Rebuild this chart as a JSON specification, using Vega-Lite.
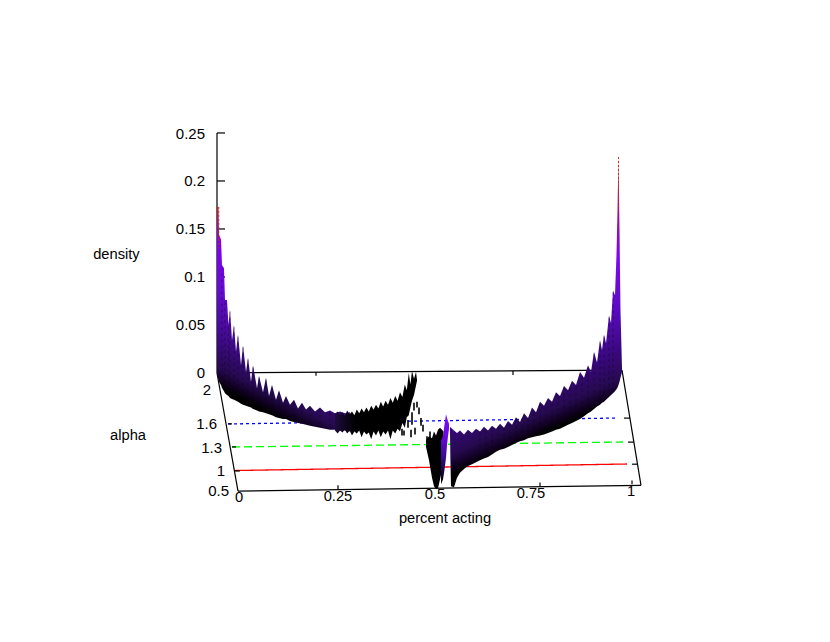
{"$schema":"https://vega.github.io/schema/vega-lite/v6.json","width":830,"height":642,"padding":0,"autosize":{"type":"fit","contains":"padding"},"background":"white","config":{"view":{"stroke":null}},
"datasets":{
"frame":[{"pct":-5.75,"dens":0,"pct2":95.5,"dens2":3},{"pct":95.5,"dens":3,"pct2":100.25,"dens2":-117},{"pct":100.25,"dens":-117,"pct2":-0.5,"dens2":-123},{"pct":-0.5,"dens":-123,"pct2":-5.75,"dens2":0},{"pct":-5.75,"dens":0,"pct2":-5.75,"dens2":250},
{"pct":-5.75,"dens":250,"pct2":-3.75,"dens2":250},{"pct":-5.75,"dens":200,"pct2":-3.75,"dens2":200},{"pct":-5.75,"dens":150,"pct2":-3.75,"dens2":150},{"pct":-5.75,"dens":100,"pct2":-3.75,"dens2":100},{"pct":-5.75,"dens":50,"pct2":-3.75,"dens2":50},
{"pct":98,"dens":-95,"pct2":99.5,"dens2":-95},{"pct":97,"dens":-72,"pct2":98.5,"dens2":-72},{"pct":96,"dens":-47,"pct2":97.5,"dens2":-47},
{"pct":-3,"dens":-53,"pct2":-2,"dens2":-53},{"pct":-2,"dens":-77,"pct2":-1,"dens2":-77},{"pct":-1.25,"dens":-102,"pct2":0,"dens2":-102},
{"pct":19,"dens":1,"pct2":19,"dens2":-3},{"pct":68.25,"dens":2,"pct2":68.25,"dens2":-2},{"pct":24.5,"dens":-121,"pct2":24.5,"dens2":-117},{"pct":75,"dens":-118,"pct2":75,"dens2":-114},{"pct":98,"dens":-116,"pct2":98,"dens2":-112}],
"levels":[{"pct":-1.25,"dens":-101.6,"pct2":96.75,"dens2":-94.8,"alpha":"1"},{"pct":-2,"dens":-77.1,"pct2":95.75,"dens2":-71.9,"alpha":"1.3"},{"pct":-3,"dens":-53.1,"pct2":94.25,"dens2":-46.9,"alpha":"1.6"}],
"leftWedge":[{"pct":-5.75,"dens":173,"dens2":-2},{"pct":-5.38,"dens":173,"dens2":-7},{"pct":-5.25,"dens":144,"dens2":-9},{"pct":-4.75,"dens":139,"dens2":-12.5},{"pct":-4.5,"dens":112.5,"dens2":-15.6},{"pct":-4,"dens":109,"dens2":-19},{"pct":-3.75,"dens":76,"dens2":-21},{"pct":-3.25,"dens":76,"dens2":-23},{"pct":-2.88,"dens":50,"dens2":-24},{"pct":-2.5,"dens":66,"dens2":-26},{"pct":-2,"dens":34,"dens2":-27},{"pct":-1.5,"dens":50,"dens2":-28},{"pct":-1,"dens":22,"dens2":-29},{"pct":-0.5,"dens":40,"dens2":-30},{"pct":0.25,"dens":8,"dens2":-32},{"pct":0.75,"dens":29,"dens2":-33},{"pct":1.5,"dens":1,"dens2":-34},{"pct":2,"dens":16,"dens2":-35},{"pct":2.75,"dens":-9,"dens2":-36},{"pct":3.25,"dens":8,"dens2":-37.5},{"pct":4.25,"dens":-16,"dens2":-39},{"pct":4.75,"dens":-3,"dens2":-40},{"pct":5.75,"dens":-20,"dens2":-41},{"pct":6.5,"dens":-5,"dens2":-42},{"pct":7.25,"dens":-24,"dens2":-43},{"pct":8,"dens":-12.5,"dens2":-44},{"pct":9,"dens":-28,"dens2":-46},{"pct":9.75,"dens":-18,"dens2":-47},{"pct":10.75,"dens":-31,"dens2":-48},{"pct":11.5,"dens":-24,"dens2":-48},{"pct":12.5,"dens":-33,"dens2":-50},{"pct":13.5,"dens":-28,"dens2":-51},{"pct":14.5,"dens":-37,"dens2":-52},{"pct":15.5,"dens":-31,"dens2":-53},{"pct":16.5,"dens":-38,"dens2":-54},{"pct":17.5,"dens":-34,"dens2":-55},{"pct":18.75,"dens":-40,"dens2":-56},{"pct":20,"dens":-36,"dens2":-57},{"pct":21.25,"dens":-41,"dens2":-58},{"pct":22.5,"dens":-39,"dens2":-59},{"pct":23.75,"dens":-42,"dens2":-59},{"pct":25,"dens":-40,"dens2":-60},{"pct":26.25,"dens":-42,"dens2":-60},{"pct":27.5,"dens":-41,"dens2":-61}],
"rightWedge":[{"pct":52.5,"dens":-56,"dens2":-62.5},{"pct":52.6,"dens":-56.5,"dens2":-90},{"pct":52.75,"dens":-57,"dens2":-118},{"pct":53.5,"dens":-60,"dens2":-119},{"pct":54.25,"dens":-62.5,"dens2":-109},{"pct":55,"dens":-60,"dens2":-104},{"pct":56,"dens":-64,"dens2":-100},{"pct":57,"dens":-59,"dens2":-97},{"pct":58,"dens":-62.5,"dens2":-95},{"pct":59,"dens":-58,"dens2":-93},{"pct":60,"dens":-61,"dens2":-91},{"pct":61,"dens":-56,"dens2":-89},{"pct":62,"dens":-60,"dens2":-87.5},{"pct":63,"dens":-55,"dens2":-85},{"pct":64,"dens":-58,"dens2":-82},{"pct":65,"dens":-53,"dens2":-80},{"pct":66,"dens":-57,"dens2":-79},{"pct":67,"dens":-50,"dens2":-77},{"pct":68,"dens":-54,"dens2":-75},{"pct":69,"dens":-46,"dens2":-73},{"pct":70,"dens":-51,"dens2":-71},{"pct":71,"dens":-42,"dens2":-70},{"pct":72,"dens":-47,"dens2":-68},{"pct":73,"dens":-36,"dens2":-67},{"pct":74,"dens":-41,"dens2":-66},{"pct":75,"dens":-30,"dens2":-65},{"pct":76,"dens":-34,"dens2":-64},{"pct":77,"dens":-26,"dens2":-62.5},{"pct":78,"dens":-30,"dens2":-61},{"pct":79,"dens":-20,"dens2":-59},{"pct":80,"dens":-24,"dens2":-58},{"pct":81,"dens":-13.5,"dens2":-56},{"pct":82,"dens":-18,"dens2":-54},{"pct":83,"dens":-8,"dens2":-52},{"pct":84,"dens":-12.5,"dens2":-50},{"pct":85,"dens":1,"dens2":-48},{"pct":86,"dens":-5,"dens2":-45},{"pct":87,"dens":8,"dens2":-42},{"pct":87.75,"dens":1,"dens2":-40},{"pct":88.5,"dens":22,"dens2":-37.5},{"pct":89.25,"dens":11,"dens2":-35},{"pct":90,"dens":34,"dens2":-33},{"pct":90.5,"dens":24,"dens2":-31},{"pct":91,"dens":40,"dens2":-30},{"pct":91.5,"dens":31,"dens2":-28},{"pct":92.25,"dens":60,"dens2":-25},{"pct":92.75,"dens":52,"dens2":-23},{"pct":93.25,"dens":86,"dens2":-21},{"pct":93.75,"dens":81,"dens2":-19},{"pct":94.12,"dens":123,"dens2":-17},{"pct":94.38,"dens":170,"dens2":-15},{"pct":94.62,"dens":225,"dens2":-12.5},{"pct":94.88,"dens":149,"dens2":-9},{"pct":95.12,"dens":66,"dens2":-5},{"pct":95.5,"dens":5,"dens2":1}],
"centreSpike":[{"pct":50.25,"dens":-70,"dens2":-116},{"pct":50.75,"dens":-66,"dens2":-111},{"pct":51.12,"dens":-54,"dens2":-101},{"pct":51.5,"dens":-43,"dens2":-88.5},{"pct":51.75,"dens":-47,"dens2":-75},{"pct":52,"dens":-50,"dens2":-66},{"pct":52.25,"dens":-53,"dens2":-58}],
"centreBlack":[{"pct":46.5,"dens":-70,"dens2":-77},{"pct":47.25,"dens":-66,"dens2":-91},{"pct":48,"dens":-68,"dens2":-109},{"pct":48.5,"dens":-61,"dens2":-118},{"pct":49,"dens":-65,"dens2":-121},{"pct":49.5,"dens":-59,"dens2":-120},{"pct":50,"dens":-57,"dens2":-111},{"pct":50.5,"dens":-59,"dens2":-101},{"pct":50.88,"dens":-61,"dens2":-80}],
"leftBlack":[{"pct":23.75,"dens":-43,"dens2":-60},{"pct":24.4,"dens":-40,"dens2":-63},{"pct":25,"dens":-44,"dens2":-60},{"pct":25.6,"dens":-41,"dens2":-62},{"pct":26.2,"dens":-45,"dens2":-59},{"pct":26.8,"dens":-39,"dens2":-63},{"pct":27.4,"dens":-43,"dens2":-60},{"pct":28,"dens":-40,"dens2":-65},{"pct":28.6,"dens":-44,"dens2":-61},{"pct":29.2,"dens":-38,"dens2":-63},{"pct":29.8,"dens":-42,"dens2":-60},{"pct":30.4,"dens":-37,"dens2":-67},{"pct":31,"dens":-41,"dens2":-61},{"pct":31.6,"dens":-36,"dens2":-64},{"pct":32.2,"dens":-40,"dens2":-62},{"pct":32.8,"dens":-34,"dens2":-69},{"pct":33.4,"dens":-38,"dens2":-61},{"pct":34,"dens":-33,"dens2":-65},{"pct":34.6,"dens":-37,"dens2":-60},{"pct":35.2,"dens":-30,"dens2":-67},{"pct":35.8,"dens":-35,"dens2":-61},{"pct":36.4,"dens":-29,"dens2":-64},{"pct":37,"dens":-33,"dens2":-60},{"pct":37.6,"dens":-26,"dens2":-69},{"pct":38.2,"dens":-31,"dens2":-60},{"pct":38.8,"dens":-24,"dens2":-63},{"pct":39.4,"dens":-29,"dens2":-58},{"pct":40,"dens":-20,"dens2":-61},{"pct":40.6,"dens":-25,"dens2":-52},{"pct":41.2,"dens":-12,"dens2":-57},{"pct":41.7,"dens":-18,"dens2":-46},{"pct":42.2,"dens":0,"dens2":-44},{"pct":42.6,"dens":-12,"dens2":-36},{"pct":43,"dens":2,"dens2":-29},{"pct":43.5,"dens":-6,"dens2":-23},{"pct":44,"dens":1,"dens2":-13},{"pct":44.25,"dens":-7,"dens2":-8}],
"dashes":[{"pct":40.5,"dens":-58,"dens2":-65},{"pct":41,"dens":-60,"dens2":-65},{"pct":42,"dens":-49,"dens2":-57},{"pct":42.75,"dens":-59,"dens2":-67},{"pct":43,"dens":-41,"dens2":-54},{"pct":43.5,"dens":-31,"dens2":-39},{"pct":43.75,"dens":-57,"dens2":-64},{"pct":44.25,"dens":-30,"dens2":-36},{"pct":44.75,"dens":-36,"dens2":-43},{"pct":45.25,"dens":-47,"dens2":-55},{"pct":45.75,"dens":-54,"dens2":-61},{"pct":46.75,"dens":-66,"dens2":-73},{"pct":47.5,"dens":-61,"dens2":-70}],
"hatch":[{"pct":60,"dens":-62,"dens2":-88},{"pct":61.5,"dens":-60,"dens2":-86},{"pct":63,"dens":-57,"dens2":-82},{"pct":64.5,"dens":-56,"dens2":-79},{"pct":66,"dens":-57,"dens2":-77},{"pct":67.5,"dens":-53,"dens2":-73},{"pct":69,"dens":-48,"dens2":-70},{"pct":70.5,"dens":-47,"dens2":-68},{"pct":72,"dens":-47,"dens2":-65},{"pct":73.5,"dens":-42,"dens2":-63},{"pct":75,"dens":-32,"dens2":-62},{"pct":76.5,"dens":-36,"dens2":-60},{"pct":78,"dens":-32,"dens2":-58},{"pct":79.5,"dens":-24,"dens2":-55},{"pct":81,"dens":-15,"dens2":-53},{"pct":82.5,"dens":-16,"dens2":-50},{"pct":84,"dens":-14,"dens2":-47},{"pct":85.5,"dens":-4,"dens2":-44},{"pct":87,"dens":6,"dens2":-39},{"pct":88.5,"dens":20,"dens2":-34},{"pct":90,"dens":32,"dens2":-30},{"pct":91,"dens":38,"dens2":-27},{"pct":92.25,"dens":58,"dens2":-22},{"pct":93.25,"dens":84,"dens2":-18},
{"pct":-4.5,"dens":110,"dens2":-12},{"pct":-3.75,"dens":74,"dens2":-18},{"pct":-2.88,"dens":48,"dens2":-21},{"pct":-2.5,"dens":64,"dens2":-23},{"pct":-1.5,"dens":48,"dens2":-25},{"pct":-0.5,"dens":38,"dens2":-27},{"pct":0.75,"dens":27,"dens2":-30},{"pct":2,"dens":14,"dens2":-32},{"pct":3.25,"dens":6,"dens2":-34},{"pct":4.75,"dens":-5,"dens2":-37},{"pct":6.5,"dens":-7,"dens2":-39},{"pct":8,"dens":-14,"dens2":-41},{"pct":9.75,"dens":-20,"dens2":-44},{"pct":11.5,"dens":-26,"dens2":-45},{"pct":13.5,"dens":-30,"dens2":-48},{"pct":15.5,"dens":-33,"dens2":-50},{"pct":17.5,"dens":-36,"dens2":-52},{"pct":20,"dens":-38,"dens2":-54},{"pct":22.5,"dens":-41,"dens2":-56}],
"peaks":[{"pct":94.62,"dens":225,"dens2":170},{"pct":-5.3,"dens":173,"dens2":130}],
"labels":[{"pct":-8.75,"dens":249,"t":"0.25"},{"pct":-8.75,"dens":200,"t":"0.2"},{"pct":-8.75,"dens":150,"t":"0.15"},{"pct":-8.75,"dens":100,"t":"0.1"},{"pct":-8.75,"dens":50,"t":"0.05"},{"pct":-8.75,"dens":0,"t":"0"},{"pct":-7.25,"dens":-17.7,"t":"2"},{"pct":-5.75,"dens":-53.1,"t":"1.6"},{"pct":-4.5,"dens":-78.1,"t":"1.3"},{"pct":-3.75,"dens":-102.1,"t":"1"},{"pct":-2.75,"dens":-122.9,"t":"0.5"}],
"labelsC":[{"pct":-0.25,"dens":-130.2,"t":"0"},{"pct":24.5,"dens":-129.2,"t":"0.25"},{"pct":48.75,"dens":-127.1,"t":"0.5"},{"pct":72.75,"dens":-126,"t":"0.75"},{"pct":97.75,"dens":-124,"t":"1"},{"pct":-30.9,"dens":122.9,"t":"density"},{"pct":-28,"dens":-65.6,"t":"alpha"},{"pct":51.25,"dens":-152.1,"t":"percent acting"}]
},
"encoding":{"x":{"field":"pct","type":"quantitative","scale":{"domain":[-60,147.5],"nice":false,"zero":false},"axis":null},"y":{"field":"dens","type":"quantitative","scale":{"domain":[-280.2,388.5],"nice":false,"zero":false},"axis":null}},
"layer":[
{"data":{"name":"levels"},"mark":{"type":"rule","strokeWidth":1.3},"encoding":{"x2":{"field":"pct2"},"y2":{"field":"dens2"},"color":{"field":"alpha","type":"nominal","legend":null,"scale":{"domain":["1","1.3","1.6"],"range":["#ff0000","#00ff00","#0000ff"]}},"strokeDash":{"field":"alpha","type":"nominal","legend":null,"scale":{"domain":["1","1.3","1.6"],"range":[[1,0],[8,4],[3,3]]}}}},
{"data":{"name":"frame"},"mark":{"type":"rule","stroke":"#000000","strokeWidth":1.2},"encoding":{"x2":{"field":"pct2"},"y2":{"field":"dens2"}}},
{"data":{"name":"dashes"},"mark":{"type":"rule","stroke":"#000000","strokeWidth":1.6},"encoding":{"y2":{"field":"dens2"}}},
{"data":{"name":"centreBlack"},"mark":{"type":"area","color":"#000000"},"encoding":{"y2":{"field":"dens2"}}},
{"data":{"name":"leftWedge"},"mark":{"type":"area","color":{"gradient":"linear","x1":0.474,"y1":0.938,"x2":0.763,"y2":-0.04,"stops":[{"offset":0,"color":"#000000"},{"offset":0.03,"color":"#100020"},{"offset":0.08,"color":"#260a50"},{"offset":0.2,"color":"#3e0a88"},{"offset":0.4,"color":"#640cd0"},{"offset":0.6,"color":"#8000f0"},{"offset":0.68,"color":"#a01090"},{"offset":0.75,"color":"#c02020"}]}},"encoding":{"y2":{"field":"dens2"}}},
{"data":{"name":"leftBlack"},"mark":{"type":"area","color":{"gradient":"linear","x1":0,"y1":0.5,"x2":0.25,"y2":0.5,"stops":[{"offset":0,"color":"#1e0a3c"},{"offset":1,"color":"#000000"}]}},"encoding":{"y2":{"field":"dens2"}}},
{"data":{"name":"centreSpike"},"mark":{"type":"area","color":{"gradient":"linear","x1":0.5,"y1":1,"x2":0.5,"y2":0,"stops":[{"offset":0,"color":"#000000"},{"offset":0.4,"color":"#3a0a90"},{"offset":0.7,"color":"#6a08e0"},{"offset":1,"color":"#7a10ff"}]}},"encoding":{"y2":{"field":"dens2"}}},
{"data":{"name":"rightWedge"},"mark":{"type":"area","color":{"gradient":"linear","x1":0.52,"y1":0.842,"x2":0.316,"y2":-0.036,"stops":[{"offset":0,"color":"#000000"},{"offset":0.023,"color":"#100020"},{"offset":0.065,"color":"#260a50"},{"offset":0.163,"color":"#3a0880"},{"offset":0.3,"color":"#5a0cc0"},{"offset":0.46,"color":"#7a08f0"},{"offset":0.62,"color":"#a01090"},{"offset":0.795,"color":"#c02020"}]}},"encoding":{"y2":{"field":"dens2"}}},
{"data":{"name":"hatch"},"mark":{"type":"rule","stroke":"#000000","strokeOpacity":0.35,"strokeWidth":1,"strokeDash":[3,3]},"encoding":{"y2":{"field":"dens2"}}},
{"data":{"name":"peaks"},"mark":{"type":"rule","stroke":"#b83030","strokeWidth":1,"strokeDash":[2,2]},"encoding":{"y2":{"field":"dens2"}}},
{"data":{"name":"labels"},"mark":{"type":"text","align":"right","baseline":"middle","font":"Liberation Sans","fontSize":15,"color":"#000000"},"encoding":{"text":{"field":"t"}}},
{"data":{"name":"labelsC"},"mark":{"type":"text","align":"center","baseline":"middle","font":"Liberation Sans","fontSize":14.7,"color":"#000000"},"encoding":{"text":{"field":"t"}}}
]}
